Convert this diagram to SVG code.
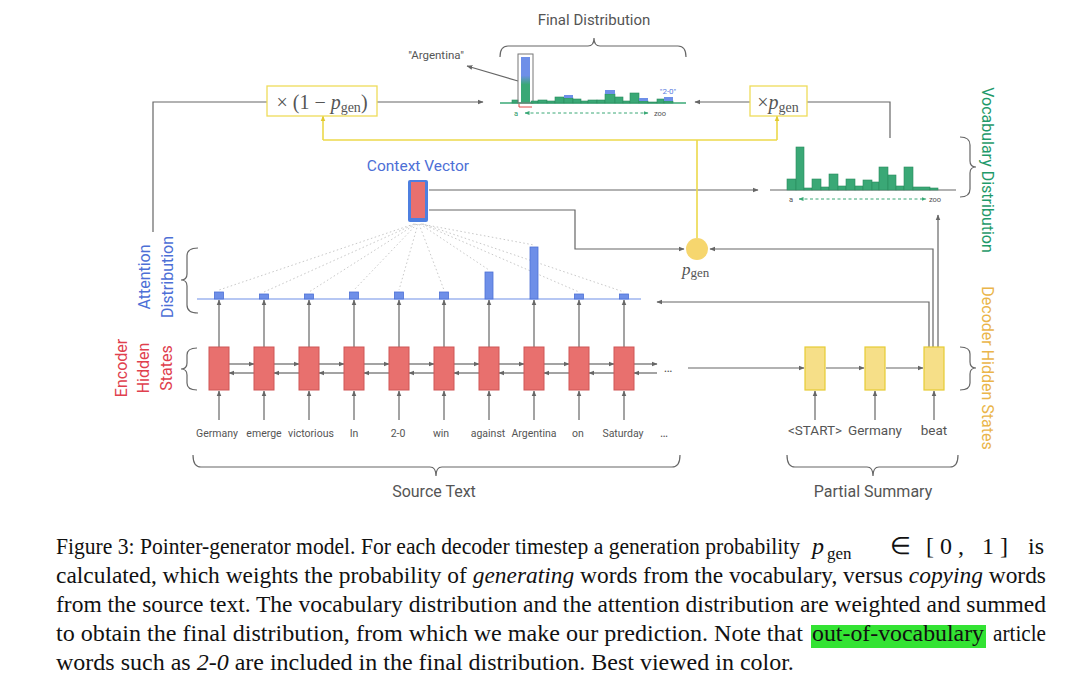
<svg xmlns="http://www.w3.org/2000/svg" width="1080" height="683" viewBox="0 0 1080 683">
<style>
.ln{stroke:#666;stroke-width:1.2;fill:none}
.lnA{stroke:#666;stroke-width:1.2;fill:none;marker-end:url(#ah)}
.yl{stroke:#ecd94a;stroke-width:1.6;fill:none}
.ylA{stroke:#ecd94a;stroke-width:1.6;fill:none;marker-end:url(#ahy)}
.enc{fill:#e8706e;stroke:#cf5656;stroke-width:1}
.dec{fill:#f6df88;stroke:#e6cc35;stroke-width:1.2}
.att{fill:#6e8fe8;stroke:#4d70d6;stroke-width:0.8}
.gb{fill:#3aa876;stroke:#2a8a5e;stroke-width:0.6}
.bb{fill:#6e8fe8}
.dot{stroke:#c8c8c8;stroke-width:1;stroke-dasharray:1.5 2.5;fill:none}
.w{font-family:Roboto,"Liberation Sans",sans-serif;font-size:10.5px;fill:#555;text-anchor:middle}
.dw{font-family:Roboto,"Liberation Sans",sans-serif;font-size:13.5px;fill:#555;text-anchor:middle}
.lab{font-family:Roboto,"Liberation Sans",sans-serif;font-size:16px;text-anchor:middle}
.brace{fill:none;stroke:#666;stroke-width:1.2}
.math{font-family:"Liberation Serif",serif;fill:#555}
.cap{font-family:"Liberation Serif",serif;font-size:24px;fill:#111}
.ax{font-family:Roboto,"Liberation Sans",sans-serif;font-size:7.5px;fill:#2a9a6a}
.axl{stroke:#3aa876;stroke-width:1;stroke-dasharray:3 2.5;fill:none;marker-end:url(#ahg);marker-start:url(#ahg)}
</style>
<defs>
<marker id="ah" viewBox="0 0 10 10" refX="9" refY="5" markerWidth="6" markerHeight="6" markerUnits="userSpaceOnUse" orient="auto"><path d="M0,1 L10,5 L0,9 z" fill="#666"/></marker>
<marker id="ahy" viewBox="0 0 10 10" refX="9" refY="5" markerWidth="6" markerHeight="6" markerUnits="userSpaceOnUse" orient="auto"><path d="M0,1 L10,5 L0,9 z" fill="#e0c830"/></marker>
<marker id="ahg" viewBox="0 0 10 10" refX="9" refY="5" markerWidth="5" markerHeight="5" markerUnits="userSpaceOnUse" orient="auto-start-reverse"><path d="M0,1 L10,5 L0,9 z" fill="#3aa876"/></marker>
<linearGradient id="argG" x1="0" y1="0" x2="0" y2="1">
<stop offset="0" stop-color="#6e8fe8"/><stop offset="0.4" stop-color="#6e8fe8"/><stop offset="0.6" stop-color="#3aa876"/><stop offset="1" stop-color="#3aa876"/>
</linearGradient>
</defs>
<rect width="1080" height="683" fill="#fff"/>

<g id="connectors">
<g>
<line class="lnA" x1="219" y1="420" x2="219" y2="391"/><line class="lnA" x1="219" y1="347" x2="219" y2="300"/>
<line class="lnA" x1="264" y1="420" x2="264" y2="391"/><line class="lnA" x1="264" y1="347" x2="264" y2="300"/>
<line class="lnA" x1="309" y1="420" x2="309" y2="391"/><line class="lnA" x1="309" y1="347" x2="309" y2="300"/>
<line class="lnA" x1="354" y1="420" x2="354" y2="391"/><line class="lnA" x1="354" y1="347" x2="354" y2="300"/>
<line class="lnA" x1="399" y1="420" x2="399" y2="391"/><line class="lnA" x1="399" y1="347" x2="399" y2="300"/>
<line class="lnA" x1="444" y1="420" x2="444" y2="391"/><line class="lnA" x1="444" y1="347" x2="444" y2="300"/>
<line class="lnA" x1="489" y1="420" x2="489" y2="391"/><line class="lnA" x1="489" y1="347" x2="489" y2="300"/>
<line class="lnA" x1="534" y1="420" x2="534" y2="391"/><line class="lnA" x1="534" y1="347" x2="534" y2="300"/>
<line class="lnA" x1="579" y1="420" x2="579" y2="391"/><line class="lnA" x1="579" y1="347" x2="579" y2="300"/>
<line class="lnA" x1="624" y1="420" x2="624" y2="391"/><line class="lnA" x1="624" y1="347" x2="624" y2="300"/>
</g>
<g>
<line class="lnA" x1="229" y1="364" x2="254" y2="364"/><line class="lnA" x1="254" y1="373" x2="229" y2="373"/>
<line class="lnA" x1="274" y1="364" x2="299" y2="364"/><line class="lnA" x1="299" y1="373" x2="274" y2="373"/>
<line class="lnA" x1="319" y1="364" x2="344" y2="364"/><line class="lnA" x1="344" y1="373" x2="319" y2="373"/>
<line class="lnA" x1="364" y1="364" x2="389" y2="364"/><line class="lnA" x1="389" y1="373" x2="364" y2="373"/>
<line class="lnA" x1="409" y1="364" x2="434" y2="364"/><line class="lnA" x1="434" y1="373" x2="409" y2="373"/>
<line class="lnA" x1="454" y1="364" x2="479" y2="364"/><line class="lnA" x1="479" y1="373" x2="454" y2="373"/>
<line class="lnA" x1="499" y1="364" x2="524" y2="364"/><line class="lnA" x1="524" y1="373" x2="499" y2="373"/>
<line class="lnA" x1="544" y1="364" x2="569" y2="364"/><line class="lnA" x1="569" y1="373" x2="544" y2="373"/>
<line class="lnA" x1="589" y1="364" x2="614" y2="364"/><line class="lnA" x1="614" y1="373" x2="589" y2="373"/>
<line class="lnA" x1="634" y1="364" x2="657" y2="364"/><line class="lnA" x1="657" y1="373" x2="634" y2="373"/>
</g>
<line class="lnA" x1="688" y1="368" x2="804" y2="368"/>
<line class="lnA" x1="826" y1="368" x2="864" y2="368"/>
<line class="lnA" x1="886" y1="368" x2="923" y2="368"/>
<line class="lnA" x1="815" y1="420" x2="815" y2="391"/>
<line class="lnA" x1="875" y1="420" x2="875" y2="391"/>
<line class="lnA" x1="934" y1="420" x2="934" y2="391"/>
<polyline class="lnA" points="929,347 929,302 657,302"/>
<polyline class="lnA" points="933,347 933,249 710,249"/>
<line class="lnA" x1="938" y1="347" x2="938" y2="215"/>
<line class="lnA" x1="429" y1="190" x2="758" y2="190"/>
<polyline class="lnA" points="429,210 575,210 575,249 684,249"/>
<g>
<line class="dot" x1="414" y1="224" x2="219" y2="290"/>
<line class="dot" x1="415" y1="224" x2="264" y2="292"/>
<line class="dot" x1="416" y1="224" x2="309" y2="292"/>
<line class="dot" x1="417" y1="224" x2="354" y2="290"/>
<line class="dot" x1="418" y1="224" x2="399" y2="290"/>
<line class="dot" x1="419" y1="224" x2="444" y2="290"/>
<line class="dot" x1="420" y1="224" x2="489" y2="270"/>
<line class="dot" x1="421" y1="224" x2="534" y2="245"/>
<line class="dot" x1="422" y1="224" x2="579" y2="292"/>
<line class="dot" x1="423" y1="224" x2="624" y2="292"/>
</g>
<polyline class="ln" points="153,232 153,102 267,102"/>
<line class="lnA" x1="377" y1="102" x2="483" y2="102"/>
<line class="lnA" x1="750" y1="102" x2="695" y2="102"/>
<polyline class="ln" points="807,102 890,102 890,138"/>
<line class="yl" x1="697" y1="238" x2="697" y2="140"/>
<line class="yl" x1="323" y1="140" x2="777" y2="140"/>
<line class="ylA" x1="323" y1="140" x2="323" y2="116"/>
<line class="ylA" x1="777" y1="140" x2="777" y2="116"/>
<line class="lnA" x1="518" y1="81" x2="467" y2="66"/>
</g>

<g id="encoder">
<rect class="enc" x="209" y="347" width="20" height="43"/>
<rect class="enc" x="254" y="347" width="20" height="43"/>
<rect class="enc" x="299" y="347" width="20" height="43"/>
<rect class="enc" x="344" y="347" width="20" height="43"/>
<rect class="enc" x="389" y="347" width="20" height="43"/>
<rect class="enc" x="434" y="347" width="20" height="43"/>
<rect class="enc" x="479" y="347" width="20" height="43"/>
<rect class="enc" x="524" y="347" width="20" height="43"/>
<rect class="enc" x="569" y="347" width="20" height="43"/>
<rect class="enc" x="614" y="347" width="20" height="43"/>
<text class="w" x="668" y="372" style="font-size:13px">…</text>
</g>

<g id="source-words">
<text class="w" x="217" y="437">Germany</text>
<text class="w" x="264" y="437">emerge</text>
<text class="w" x="311" y="437">victorious</text>
<text class="w" x="354" y="437">In</text>
<text class="w" x="398" y="437">2-0</text>
<text class="w" x="441" y="437">win</text>
<text class="w" x="488" y="437">against</text>
<text class="w" x="534" y="437">Argentina</text>
<text class="w" x="578" y="437">on</text>
<text class="w" x="623" y="437">Saturday</text>
<text class="w" x="664" y="437" style="font-size:12px">…</text>
</g>

<g id="source-text">
<path class="brace" d="M193,455 Q193,467 201,467 L430,467 Q436,467 436,476 Q436,467 442,467 L672,467 Q680,467 680,455"/>
<text class="lab" x="434" y="497" fill="#555">Source Text</text>
</g>

<g id="attention">
<line x1="197" y1="299" x2="641" y2="299" stroke="#6e8fe8" stroke-width="1.2"/>
<rect class="att" x="214.5" y="292" width="9" height="7"/>
<rect class="att" x="259.5" y="294" width="9" height="5"/>
<rect class="att" x="304.5" y="294" width="9" height="5"/>
<rect class="att" x="349.5" y="292" width="9" height="7"/>
<rect class="att" x="394.5" y="292" width="9" height="7"/>
<rect class="att" x="439.5" y="292" width="9" height="7"/>
<rect class="att" x="485" y="272" width="8" height="27"/>
<rect class="att" x="530" y="247" width="8" height="52"/>
<rect class="att" x="574.5" y="294" width="9" height="5"/>
<rect class="att" x="619.5" y="294" width="9" height="5"/>
</g>

<g id="attention-label">
<text class="lab" transform="translate(150,277) rotate(-90)" fill="#4d6fd6">Attention</text>
<text class="lab" transform="translate(173,277) rotate(-90)" fill="#4d6fd6">Distribution</text>
<path class="brace" stroke="#4d6fd6" d="M198,248 Q187,248 187,256 L187,274 Q187,280 181,280 Q187,280 187,286 L187,305 Q187,313 198,313"/>
</g>

<g id="encoder-label">
<text class="lab" transform="translate(127,368) rotate(-90)" fill="#e0404e">Encoder</text>
<text class="lab" transform="translate(149,368) rotate(-90)" fill="#e0404e">Hidden</text>
<text class="lab" transform="translate(172,368) rotate(-90)" fill="#e0404e">States</text>
<path class="brace" stroke="#888" d="M197,348 Q187,348 187,355 L187,363 Q187,369 181,369 Q187,369 187,375 L187,383 Q187,390 197,390"/>
</g>

<g id="context-vector">
<text class="lab" x="418" y="171" fill="#4d6fd6" style="font-size:15.5px">Context Vector</text>
<rect x="408" y="180" width="20" height="42" rx="2" fill="#4d7fe0"/>
<rect x="411" y="182" width="14" height="36" fill="#e8706e"/>
</g>

<g id="pgen">
<circle cx="697" cy="249" r="11" fill="#f6d66e"/>
<text class="math" x="682" y="275" style="font-size:17px"><tspan font-style="italic">p</tspan><tspan font-size="13" dy="2">gen</tspan></text>
</g>

<g id="decoder">
<rect class="dec" x="805" y="347" width="20" height="43"/>
<rect class="dec" x="865" y="347" width="20" height="43"/>
<rect class="dec" x="924" y="347" width="20" height="43"/>
</g>

<g id="summary-words">
<text class="dw" x="815" y="435">&lt;START&gt;</text>
<text class="dw" x="875" y="435">Germany</text>
<text class="dw" x="934" y="435">beat</text>
</g>

<g id="partial-summary">
<path class="brace" d="M787,455 Q787,467 795,467 L867,467 Q873,467 873,476 Q873,467 879,467 L950,467 Q958,467 958,455"/>
<text class="lab" x="873" y="497" fill="#555">Partial Summary</text>
</g>

<g id="decoder-label">
<text class="lab" transform="translate(982,368) rotate(90)" fill="#eab54a">Decoder Hidden States</text>
<path class="brace" stroke="#e6d35a" d="M960,347 Q970,347 970,354 L970,362 Q970,368 976,368 Q970,368 970,374 L970,383 Q970,390 960,390"/>
</g>

<g id="vocab-dist">
<line x1="770" y1="190" x2="956" y2="190" stroke="#666" stroke-width="1.2"/>
<rect class="gb" x="787" y="179" width="9" height="11"/>
<rect class="gb" x="796" y="147" width="8" height="43"/>
<rect class="gb" x="804" y="188" width="8" height="2"/>
<rect class="gb" x="812" y="179" width="9" height="11"/>
<rect class="gb" x="821" y="187" width="8" height="3"/>
<rect class="gb" x="829" y="174" width="9" height="16"/>
<rect class="gb" x="838" y="186" width="8" height="4"/>
<rect class="gb" x="846" y="179" width="9" height="11"/>
<rect class="gb" x="855" y="186" width="8" height="4"/>
<rect class="gb" x="863" y="180" width="9" height="10"/>
<rect class="gb" x="872" y="182" width="7" height="8"/>
<rect class="gb" x="879" y="167" width="9" height="23"/>
<rect class="gb" x="888" y="175" width="8" height="15"/>
<rect class="gb" x="896" y="186" width="8" height="4"/>
<rect class="gb" x="904" y="167" width="9" height="23"/>
<rect class="gb" x="913" y="187" width="17" height="3"/>
<rect class="gb" x="930" y="188" width="8" height="2"/>
<text class="ax" x="791" y="202" text-anchor="middle" style="fill:#555">a</text>
<line class="axl" x1="799" y1="199" x2="926" y2="199"/>
<text class="ax" x="935" y="202" text-anchor="middle" style="fill:#555">zoo</text>
</g>

<g id="vocab-label">
<text class="lab" transform="translate(982,170) rotate(90)" fill="#1f9a6a">Vocabulary Distribution</text>
<path class="brace" stroke="#777" d="M960,137 Q970,137 970,145 L970,161 Q970,167 976,167 Q970,167 970,173 L970,189 Q970,197 960,197"/>
</g>

<g id="final-dist">
<text class="lab" x="594" y="25" fill="#555" style="font-size:15px">Final Distribution</text>
<path class="brace" d="M500,57 Q500,46 508,46 L588,46 Q594,46 594,38 Q594,46 600,46 L678,46 Q686,46 686,57"/>
<line x1="500" y1="103" x2="686" y2="103" stroke="#3aa876" stroke-width="1.5"/>
<rect class="gb" x="512" y="100" width="6" height="3"/>
<rect x="521" y="57" width="9" height="46" fill="url(#argG)"/>
<rect x="518" y="54" width="15" height="49" fill="none" stroke="#777" stroke-width="1"/>
<path d="M519,104 L519,107 L532,107" fill="none" stroke="#e04848" stroke-width="1"/>
<rect class="gb" x="531" y="101" width="7" height="2"/>
<rect class="gb" x="538" y="100" width="9" height="3"/>
<rect class="gb" x="547" y="101" width="8" height="2"/>
<rect class="gb" x="555" y="97" width="9" height="6"/>
<rect class="gb" x="564" y="98" width="9" height="5"/>
<rect class="bb" x="564" y="95" width="9" height="3"/>
<rect class="gb" x="573" y="99" width="8" height="4"/>
<rect class="gb" x="581" y="101" width="7" height="2"/>
<rect class="gb" x="588" y="100" width="9" height="3"/>
<rect class="gb" x="597" y="100" width="8" height="3"/>
<rect class="gb" x="605" y="94" width="10" height="9"/>
<rect class="bb" x="605" y="90" width="10" height="4"/>
<rect class="gb" x="615" y="97" width="8" height="6"/>
<rect class="gb" x="623" y="101" width="7" height="2"/>
<rect class="gb" x="630" y="93" width="9" height="10"/>
<rect class="gb" x="639" y="101" width="9" height="2"/>
<rect class="bb" x="639" y="98" width="9" height="3"/>
<rect class="gb" x="648" y="102" width="9" height="1"/>
<rect class="gb" x="657" y="99" width="7" height="4"/>
<rect class="gb" x="664" y="101" width="9" height="2"/>
<rect class="bb" x="664" y="97" width="9" height="4"/>
<text x="668" y="94" text-anchor="middle" style="font-family:Roboto,'Liberation Sans',sans-serif;font-size:8px;fill:#5a7de0">"2-0"</text>
<text class="ax" x="516" y="116" text-anchor="middle">a</text>
<line class="axl" x1="525" y1="113" x2="648" y2="113"/>
<text class="ax" x="660" y="116" text-anchor="middle" style="fill:#555">zoo</text>
<text x="436" y="59" text-anchor="middle" style="font-family:Roboto,'Liberation Sans',sans-serif;font-size:11.5px;fill:#555">"Argentina"</text>
</g>

<g id="weight-1-minus-pgen">
<rect x="267" y="86" width="110" height="30" fill="#fff" stroke="#eedc5a" stroke-width="1.3"/>
<text class="math" x="322" y="109" text-anchor="middle" style="font-size:20px">× (1 − <tspan font-style="italic">p</tspan><tspan font-size="14" dy="3">gen</tspan><tspan dy="-3">)</tspan></text>
</g>

<g id="weight-pgen">
<rect x="750" y="86" width="57" height="30" fill="#fff" stroke="#eedc5a" stroke-width="1.3"/>
<text class="math" x="778" y="109" text-anchor="middle" style="font-size:20px">×<tspan font-style="italic">p</tspan><tspan font-size="14" dy="3">gen</tspan></text>
</g>

<g id="caption">
<text class="cap" x="56" y="554" textLength="744" lengthAdjust="spacingAndGlyphs">Figure 3: Pointer-generator model.  For each decoder timestep a generation probability</text>
<text class="cap" x="812" y="554" font-style="italic">p</text>
<text class="cap" x="827" y="559" style="font-size:17px">gen</text>
<text class="cap" x="890" y="554">∈</text>
<text class="cap" x="926" y="554" letter-spacing="6">[0, 1]</text>
<text class="cap" x="1028" y="554">is</text>
<text class="cap" x="56" y="583" textLength="990" lengthAdjust="spacingAndGlyphs">calculated, which weights the probability of <tspan font-style="italic">generating</tspan> words from the vocabulary, versus <tspan font-style="italic">copying</tspan> words</text>
<text class="cap" x="56" y="612" textLength="990" lengthAdjust="spacingAndGlyphs">from the source text. The vocabulary distribution and the attention distribution are weighted and summed</text>
<rect x="811" y="625" width="175" height="23" fill="#33e333"/>
<text class="cap" x="56" y="641" textLength="747" lengthAdjust="spacingAndGlyphs">to obtain the final distribution, from which we make our prediction. Note that</text>
<text class="cap" x="812" y="641" textLength="172" lengthAdjust="spacingAndGlyphs">out-of-vocabulary</text>
<text class="cap" x="993" y="641" textLength="53" lengthAdjust="spacingAndGlyphs">article</text>
<text class="cap" x="56" y="670">words such as <tspan font-style="italic">2-0</tspan> are included in the final distribution. Best viewed in color.</text>
</g>
</svg>
